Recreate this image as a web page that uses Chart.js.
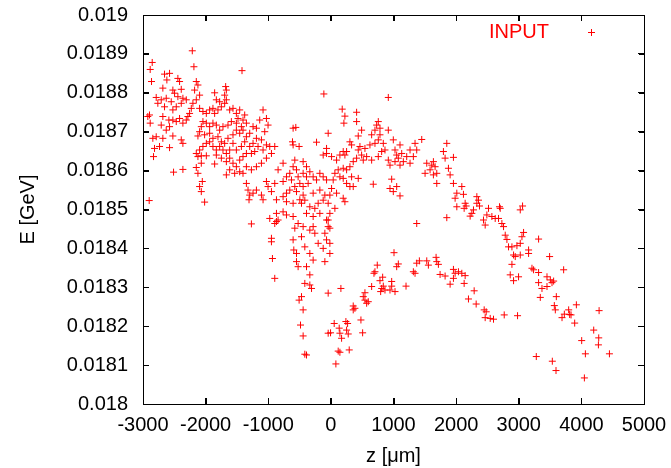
<!DOCTYPE html>
<html>
<head>
<meta charset="utf-8">
<script src="https://cdn.jsdelivr.net/npm/chart.js@4.4.1/dist/chart.umd.min.js"></script>
<style>
  html, body { margin: 0; padding: 0; background: #fff; }
  #c { display: block; }
</style>
</head>
<body>
<canvas id="c" width="671" height="468"></canvas>
<script>
// ---- Data: [z (um), E (GeV)] ----
const seriesLabel = "INPUT";
const xTitle = "z [\u03bcm]";
const yTitle = "E [GeV]";

const pointsWest = [
[-2213,0.018908],[-2187,0.018867],[-1419,0.018857],[-2853,0.018878],[-2885,0.018860],[-2864,0.018829],[-2656,0.018848],[-2576,0.018850],[-2619,0.018833],[-2443,0.018837],[-2416,0.018829],[-2683,0.018812],[-2523,0.018807],[-2496,0.018799],[-2389,0.018809],[-2789,0.018788],[-2709,0.018782],[-2629,0.018786],[-2549,0.018777],[-2443,0.018790],[-2363,0.018786],[-2389,0.018773],[-2309,0.018782],[-2469,0.018764],[-2763,0.018773],[-2656,0.018764],[-2523,0.018756],[-2149,0.018829],[-2123,0.018820],[-2176,0.018807],[-2096,0.018794],[-2149,0.018782],[-2203,0.018773],[-2229,0.018760],[-2256,0.018747],[-2283,0.018739],[-2309,0.018730],[-2363,0.018722],[-2416,0.018734],[-2469,0.018726],[-2523,0.018730],[-2587,0.018730],[-2683,0.018739],[-2709,0.018717],[-2629,0.018704],[-2576,0.018713],[-2896,0.018743],[-2885,0.018722],[-2923,0.018739],
[-2096,0.018760],[-2043,0.018752],[-1989,0.018747],[-1936,0.018756],[-1883,0.018760],[-1856,0.018747],[-1803,0.018756],[-1749,0.018764],[-1696,0.018773],[-1669,0.018782],[-1696,0.018794],[-1669,0.018807],[-1680,0.018816],[-1856,0.018800],[-1829,0.018782],[-1776,0.018777],[-1616,0.018756],[-1563,0.018760],[-1509,0.018747],[-1456,0.018756],[-1483,0.018734],[-1403,0.018730],[-1376,0.018743],[-1349,0.018722],[-1429,0.018713],[-1509,0.018722],[-1589,0.018726],[-1643,0.018717],[-1723,0.018713],[-1776,0.018704],[-1829,0.018717],[-1883,0.018722],[-1936,0.018713],[-1989,0.018722],[-2043,0.018726],[-2069,0.018713],[-2096,0.018700],[-2123,0.018689],[-2016,0.018692],[-1936,0.018696],[-1883,0.018683],[-1803,0.018687],[-1749,0.018674],[-1696,0.018670],[-1643,0.018683],[-1563,0.018692],[-1509,0.018704],[-1456,0.018696],[-1403,0.018704],[-1349,0.018687],[-1296,0.018696],[-1243,0.018713],[-1189,0.018709],[-1136,0.018730],[-1083,0.018756],[-1029,0.018734],[-1003,0.018717],[-1056,0.018700],[-1109,0.018679],[-1189,0.018683],[-1243,0.018670],[-1296,0.018662],[-1376,0.018674],[-1429,0.018662],[-1509,0.018653],[-1563,0.018670],[-1616,0.018653],[-1669,0.018644],[-1723,0.018653],[-1776,0.018662],[-1829,0.018653],[-1883,0.018662],[-1936,0.018674],[-1989,0.018670],[-2043,0.018662],[-2096,0.018653],[-2149,0.018644],[-2123,0.018636],[-2069,0.018638],[-1989,0.018638],[-1856,0.018617],[-1829,0.018640],[-1749,0.018632],[-1669,0.018623],[-1616,0.018632],[-1563,0.018619],[-1509,0.018610],[-1456,0.018627],[-1403,0.018636],[-1349,0.018644],[-1269,0.018644],[-1216,0.018649],[-1163,0.018662],[-1083,0.018653],[-1029,0.018666],[-976,0.018662],[-949,0.018644],[-1029,0.018632],[-1109,0.018619],[-1189,0.018610],[-1269,0.018602],[-1349,0.018610],[-1403,0.018593],[-1456,0.018597],[-1536,0.018593],[-1616,0.018602],[-1669,0.018589],
[-2843,0.018683],[-2789,0.018687],[-2683,0.018683],[-2736,0.018662],[-2816,0.018657],[-2832,0.018636],[-2523,0.018689],[-2363,0.018670],[-2389,0.018679],[-2576,0.018659],[-2512,0.018596],[-2363,0.018603],[-2149,0.018608],[-2123,0.018593],[-2069,0.018619],[-2053,0.018572],[-2096,0.018559],[-2069,0.018546],[-2016,0.018519],[-2901,0.018523],
[-1349,0.018567],[-1323,0.018550],[-1296,0.018537],[-1307,0.018525],[-1243,0.018542],[-1189,0.018550],[-1109,0.018537],[-1083,0.018525],[-1029,0.018572],[-1003,0.018559],[-949,0.018546],[-896,0.018567],[-869,0.018525],[-843,0.018602],[-763,0.018619],[-709,0.018584],[-656,0.018593],[-629,0.018576],[-603,0.018610],[-576,0.018627],[-549,0.018602],[-523,0.018584],[-496,0.018567],[-443,0.018593],[-389,0.018610],[-576,0.018559],[-656,0.018550],[-709,0.018542],[-763,0.018533],[-709,0.018520],[-603,0.018516],[-496,0.018525],[-443,0.018537],[-549,0.018546],[-763,0.018572],[-603,0.018709],[-613,0.018674],[-603,0.018666],[-507,0.018662],[-560,0.018711],[-896,0.018662]
];

const pointsCenter = [
[-112,0.018797],[917,0.018788],[181,0.018758],[224,0.018740],[208,0.018722],[411,0.018750],[411,0.018726],[757,0.018726],[731,0.018717],[784,0.018709],[704,0.018704],[917,0.018704],[651,0.018692],[-43,0.018696],[491,0.018704],[437,0.018689],[784,0.018692],[757,0.018679],[837,0.018670],[704,0.018670],[624,0.018666],[544,0.018657],[464,0.018662],[437,0.018653],[304,0.018674],[331,0.018666],[251,0.018649],[197,0.018649],[224,0.018640],[144,0.018640],[91,0.018627],[11,0.018636],[-69,0.018657],[-69,0.018644],[-123,0.018640],[-229,0.018673],[997,0.018679],[1104,0.018666],[1024,0.018653],[1051,0.018640],[1131,0.018644],[1077,0.018632],[1264,0.018653],[1211,0.018636],[1344,0.018670],[1451,0.018680],[1371,0.018653],[1317,0.018636],[1264,0.018619],[1157,0.018623],[1104,0.018614],[1024,0.018623],[917,0.018627],[944,0.018614],[864,0.018653],[811,0.018649],[757,0.018636],[651,0.018627],[571,0.018636],[517,0.018627],[491,0.018640],[411,0.018632],[357,0.018623],[304,0.018610],[251,0.018602],[197,0.018606],[117,0.018602],[64,0.018593],[144,0.018584],[197,0.018580],[251,0.018567],[331,0.018584],[304,0.018559],[357,0.018559],[437,0.018580],[37,0.018576],[11,0.018554],[-69,0.018576],[-123,0.018584],[-176,0.018593],[-229,0.018576],[-283,0.018584],[-336,0.018597],[-443,0.018623],[-389,0.018584],[-363,0.018567],[-443,0.018559],[-283,0.018542],[-176,0.018550],[-96,0.018537],[-16,0.018537],[-43,0.018516],[64,0.018503],[91,0.018542],[197,0.018529],[224,0.018520],[-123,0.018524],[-203,0.018516],[-256,0.018503],[-336,0.018507],[-416,0.018524],[-469,0.018516],[-389,0.018490],[-283,0.018482],[-176,0.018490],[-69,0.018473],[-16,0.018490],[-43,0.018456],[-96,0.018439],[-69,0.018422],[-16,0.018413],[-123,0.018400],[-203,0.018413],[-256,0.018439],[-283,0.018456],[-336,0.018447],[-443,0.018456],[-469,0.018430],[-416,0.018404],[-336,0.018387],[-283,0.018370],[-389,0.018353],[-336,0.018332],[-96,0.018366],[-16,0.018387],[-43,0.018473],[-16,0.018452],[677,0.018565],[971,0.018578],[944,0.018554],[997,0.018546],[1104,0.018535],[1051,0.018559],[1531,0.018619],[1584,0.018602],[1637,0.018623],[1664,0.018610],[1691,0.018593],[1637,0.018589],[1611,0.018614],[1504,0.018593],[1691,0.018567],[1851,0.018670],[1797,0.018649],[1824,0.018632],[1957,0.018634],[1877,0.018606],[1904,0.018589],[1957,0.018567],[2011,0.018542],[1984,0.018529],[2011,0.018507],[1851,0.018479],[1371,0.018464]
];

const pointsEast = [
[2091,0.018559],[2117,0.018539],[2144,0.018516],[2128,0.018503],[2160,0.018509],[2277,0.018499],[2251,0.018490],[2224,0.018483],[2331,0.018533],[2357,0.018524],[2331,0.018516],[2373,0.018509],[2517,0.018503],[2693,0.018507],[2704,0.018503],[3024,0.018499],[3061,0.018509],[2437,0.018473],[2464,0.018460],[2491,0.018486],[2571,0.018482],[2624,0.018477],[2677,0.018477],[2731,0.018464],[2757,0.018456],[2784,0.018434],[2811,0.018423],[2837,0.018404],[2891,0.018404],[2971,0.018407],[3024,0.018413],[3077,0.018441],[3051,0.018430],[2917,0.018383],[2944,0.018379],[3024,0.018383],[2891,0.018359],[2864,0.018332],[2997,0.018327],[2917,0.018317],[3157,0.018396],[3157,0.018387],[3317,0.018424],[3493,0.018379],[3211,0.018349],[3237,0.018345],[3317,0.018338],[3451,0.018327],[3504,0.018319],[3531,0.018312],[3557,0.018316],[3317,0.018312],[3371,0.018297],[3451,0.018302],[3344,0.018274],[3600,0.018276],[3717,0.018345],[2144,0.018330],[2128,0.018310],[2288,0.018291],[2197,0.018270],[2091,0.018336]
];

const pointsDip = [
[-1269,0.018463],[-976,0.018477],[-949,0.018426],[-949,0.018417],[-933,0.018374],[-896,0.018323],[-896,0.018464],[-869,0.018469],[-843,0.018473],[-869,0.018490],[-763,0.018494],[-709,0.018486],[-603,0.018482],[-576,0.018452],[-603,0.018422],[-592,0.018396],[-549,0.018387],[-549,0.018366],[-523,0.018353],[-416,0.018310],[-336,0.018306],[-309,0.018297],[-469,0.018276],[-507,0.018267],[-443,0.018242],[-485,0.018203],[-443,0.018175],[-416,0.018128],[-389,0.018126],[-43,0.018285],[-43,0.018182],[-523,0.018464]
];

const pointsLower = [
[1008,0.018389],[741,0.018357],[704,0.018340],[688,0.018336],[1051,0.018353],[1077,0.018360],[827,0.018326],[784,0.018317],[837,0.018303],[811,0.018297],[864,0.018293],[795,0.018289],[971,0.018315],[971,0.018303],[944,0.018293],[1024,0.018289],[1200,0.018303],[1317,0.018340],[1344,0.018336],[1371,0.018362],[1413,0.018368],[1531,0.018368],[1557,0.018357],[1680,0.018377],[1691,0.018366],[1717,0.018359],[1744,0.018333],[1824,0.018329],[1957,0.018346],[1984,0.018336],[2037,0.018340],[1957,0.018323],[1904,0.018308],[2320,0.018257],[2448,0.018242],[2480,0.018237],[2464,0.018222],[2544,0.018220],[2597,0.018218],[651,0.018302],[544,0.018286],[517,0.018276],[544,0.018267],[571,0.018259],[597,0.018263],[357,0.018252],[384,0.018246],[357,0.018242],[480,0.018216],[507,0.018183],[240,0.018212],[267,0.018207],[251,0.018190],[277,0.018180],[133,0.018195],[144,0.018182],[171,0.018169],[53,0.018207],[-5,0.018183],[117,0.018136],[144,0.018133],[293,0.018139],[80,0.018103],[160,0.018297]
];

const pointsTail = [
[2768,0.018229],[2981,0.018227],[3568,0.018253],[3584,0.018242],[3691,0.018222],[3728,0.018231],[3797,0.018242],[3813,0.018230],[3835,0.018229],[3920,0.018255],[3893,0.018208],[4283,0.018240],[4197,0.018190],[4277,0.018170],[4272,0.018152],[4005,0.018163],[4064,0.018129],[4448,0.018129],[3280,0.018122],[3536,0.018110],[3595,0.018086],[4048,0.018067]
];

const xMin = -3000, xMax = 5000, xStep = 1000;
const yMin = 0.018, yMax = 0.019, yStep = 0.0001;

// ---- Build chart ----
const allPoints = [].concat(pointsWest, pointsCenter, pointsEast, pointsDip, pointsLower, pointsTail)
  .map(p => ({ x: p[0], y: p[1] }));

const RED = '#ff0000';
const FONT = "'Liberation Sans', Arial, Helvetica, sans-serif";
Chart.defaults.font.family = FONT;
Chart.defaults.font.size = 20;
Chart.defaults.color = '#000';

const TICK_IN = -6; // gnuplot-style ticks pointing into the plot
const frameGrid = { display: true, drawOnChartArea: false, drawTicks: true, tickLength: TICK_IN, color: '#000', lineWidth: 1 };
const frameBorder = { display: true, color: '#000', width: 1 };

function drawFrame(chart) {
  const ctx = chart.ctx;
  const a = chart.chartArea;
  const xs = chart.scales.x, ys = chart.scales.y;
  const L = Math.round(a.left), R = Math.round(a.right);
  const T = Math.round(a.top), B = Math.round(a.bottom);
  const tl = 6;
  ctx.save();
  ctx.fillStyle = '#000000';
  ctx.fillRect(L, T, R - L + 1, 1);
  ctx.fillRect(L, B, R - L + 1, 1);
  ctx.fillRect(L, T, 1, B - T + 1);
  ctx.fillRect(R, T, 1, B - T + 1);
  xs.ticks.forEach(t => {
    const px = Math.round(xs.getPixelForValue(t.value));
    ctx.fillRect(px, B - tl, 1, tl);
    ctx.fillRect(px, T, 1, tl);
  });
  ys.ticks.forEach(t => {
    const py = Math.round(ys.getPixelForValue(t.value));
    ctx.fillRect(L, py, tl, 1);
    ctx.fillRect(R - tl + 1, py, tl, 1);
  });
  ctx.restore();
}

const framePlugin = {
  id: 'gnuplotFrame',
  afterDraw(chart) {
    drawFrame(chart);
    const ctx = chart.ctx;
    // key (legend), gnuplot style: label then sample marker
    ctx.save();
    ctx.font = '20px ' + FONT;
    ctx.fillStyle = RED;
    ctx.textAlign = 'right';
    ctx.textBaseline = 'middle';
    ctx.fillText(seriesLabel, 549, 32);
    ctx.fillRect(588, 32, 7, 1);
    ctx.fillRect(591, 29, 1, 7);
    ctx.restore();
  }
};

const hiddenTicks = { display: false, stepSize: 0 };

new Chart(document.getElementById('c'), {
  type: 'scatter',
  data: {
    datasets: [{
      label: seriesLabel,
      data: allPoints,
      xAxisID: 'x',
      yAxisID: 'y',
      pointStyle: 'cross',
      pointRadius: 3.5,
      pointHoverRadius: 3.5,
      pointBorderWidth: 1,
      borderColor: RED,
      backgroundColor: RED,
      pointBorderColor: RED
    }]
  },
  options: {
    responsive: false,
    animation: false,
    devicePixelRatio: 1,
    layout: { padding: { left: 0, right: 27, top: 15, bottom: 0 } },
    plugins: { legend: { display: false }, tooltip: { enabled: false } },
    scales: {
      x: {
        type: 'linear', position: 'bottom',
        min: xMin, max: xMax,
        grid: frameGrid,
        border: frameBorder,
        ticks: { stepSize: xStep, padding: 15, maxRotation: 0, autoSkip: false,
                 callback: v => String(v) },
        title: { display: true, text: xTitle, padding: { top: 0, bottom: 0 } },
        afterFit: s => { s.height = 64; s.paddingLeft = 0; s.paddingRight = 0; }
      },
      y: {
        type: 'linear', position: 'left',
        min: yMin, max: yMax,
        grid: frameGrid,
        border: frameBorder,
        ticks: { stepSize: yStep, padding: 21, autoSkip: false,
                 callback: v => String(parseFloat(Number(v).toFixed(4))) },
        title: { display: true, text: yTitle, padding: { top: 16, bottom: 0 } },
        afterFit: s => { s.width = 143; s.paddingTop = 0; s.paddingBottom = 0; }
      },
      x2: {
        type: 'linear', position: 'top',
        min: xMin, max: xMax,
        grid: frameGrid,
        border: frameBorder,
        ticks: { display: false, stepSize: xStep, autoSkip: false },
        afterFit: s => { s.height = 0; s.paddingLeft = 0; s.paddingRight = 0; }
      },
      y2: {
        type: 'linear', position: 'right',
        min: yMin, max: yMax,
        grid: frameGrid,
        border: frameBorder,
        ticks: { display: false, stepSize: yStep, autoSkip: false },
        afterFit: s => { s.width = 0; s.paddingTop = 0; s.paddingBottom = 0; }
      }
    }
  },
  plugins: [framePlugin]
});
</script>
</body>
</html>
